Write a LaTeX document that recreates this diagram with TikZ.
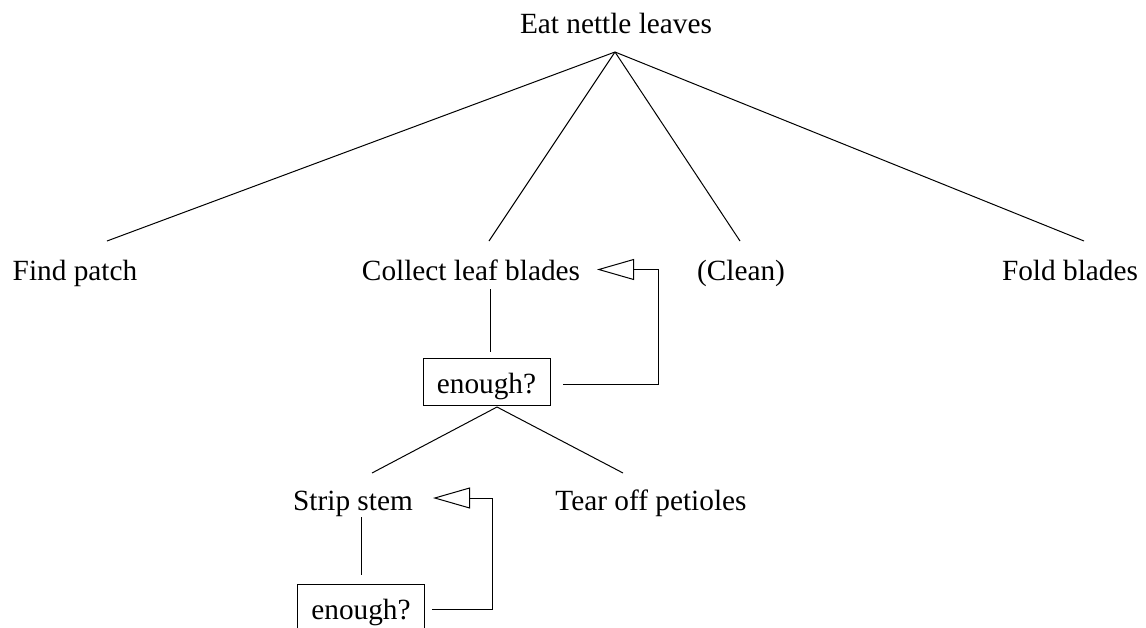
\documentclass[tikz,border=0pt]{standalone}
\usepackage{fontspec}
\setmainfont{Liberation Serif}
\usetikzlibrary{arrows.meta}
\begin{document}
\begin{tikzpicture}[x=1pt,y=-1pt,line width=1pt,
  task/.style={inner sep=0pt,anchor=base,font=\fontsize{29.3}{35}\selectfont},
  testbox/.style={draw,inner sep=0pt,minimum width=127pt,minimum height=47pt,
    text height=23pt,text depth=0pt,font=\fontsize{29.3}{35}\selectfont},
  loopback/.style={-{Triangle[open,length=37pt,width=21pt]}}]
\useasboundingbox (0,0) rectangle (1146,627);
\clip (0,0) rectangle (1146,627);

% task labels
\node[task] (eat)     at (616,33)  {Eat nettle leaves};
\node[task] (find)    at (75,280)  {Find patch};
\node[task] (collect) at (471,280) {Collect leaf blades};
\node[task] (clean)   at (741,280) {(Clean)};
\node[task] (fold)    at (1070,280){Fold blades};
\node[task] (strip)   at (353,510) {Strip stem};
\node[task] (tear)    at (651,510) {Tear off petioles};

% loop tests
\node[testbox] (test1) at (486.5,381.5) {enough?};
\node[testbox] (test2) at (361,607.5)   {enough?};

% connector end points
\coordinate (eatfoot)   at (615,52);
\coordinate (findhead)  at (107,241);
\coordinate (collhead)  at (489,241);
\coordinate (cleanhead) at (740,241);
\coordinate (foldhead)  at (1084,241);
\coordinate (collfoot)  at (490,289);
\coordinate (t1head)    at (490,352);
\coordinate (t1foot)    at (497,407);
\coordinate (striphead) at (372,473);
\coordinate (tearhead)  at (623,473);
\coordinate (stripfoot) at (361,517);
\coordinate (t2head)    at (361,575);
\coordinate (t1out)     at (563,384);
\coordinate (t1corner)  at (658,384);
\coordinate (collin)    at (597,269.5);
\coordinate (t2out)     at (432,609);
\coordinate (t2corner)  at (492,609);
\coordinate (stripin)   at (433,498);

% tree
\draw (eatfoot) -- (findhead);
\draw (eatfoot) -- (collhead);
\draw (eatfoot) -- (cleanhead);
\draw (eatfoot) -- (foldhead);
\draw (collfoot) -- (t1head);
\draw (t1foot) -- (striphead);
\draw (t1foot) -- (tearhead);
\draw (stripfoot) -- (t2head);

% repeat loops
\draw[loopback] (t1out) -- (t1corner) |- (collin);
\draw[loopback] (t2out) -- (t2corner) |- (stripin);
\end{tikzpicture}
\end{document}
